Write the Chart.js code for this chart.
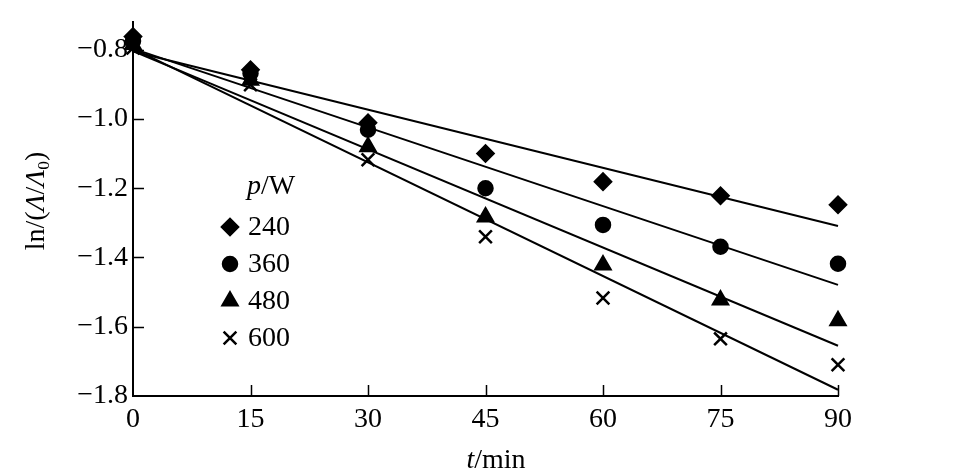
<!DOCTYPE html>
<html>
<head>
<meta charset="utf-8">
<script src="https://cdn.jsdelivr.net/npm/chart.js@4.4.1/dist/chart.umd.min.js"></script>
<style>
  html, body { margin: 0; padding: 0; background: #fff; }
  #wrap { width: 958px; height: 475px; }
</style>
</head>
<body>
<div id="wrap"><canvas id="chart" width="958" height="475"></canvas></div>
<script>
// measured points, ln(A/A0) against time, one array per power
const times = [0, 15, 30, 45, 60, 75, 90];
const powers = ['240', '360', '480', '600'];
const p240 = [-0.762, -0.858, -1.011, -1.100, -1.181, -1.222, -1.248];
const p360 = [-0.775, -0.868, -1.031, -1.200, -1.306, -1.369, -1.418];
const p480 = [-0.785, -0.888, -1.080, -1.283, -1.422, -1.523, -1.583];
const p600 = [-0.795, -0.901, -1.118, -1.340, -1.517, -1.635, -1.710];

// fitted straight lines, value at t=0 and t=90
const fitStart = [-0.805, -0.797, -0.804, -0.797];
const fitEnd = [-1.309, -1.479, -1.655, -1.782];

const xTicks = [0, 15, 30, 45, 60, 75, 90];
const yTicks = [-1.8, -1.6, -1.4, -1.2, -1.0, -0.8];

const series = [p240, p360, p480, p600];
const pointStyles = ['rectRot', 'circle', 'triangle', 'crossRot'];
const pointSizes = [8, 7, 8.5, 9];

const FONT = "'Liberation Serif', 'DejaVu Serif', serif";
const FS = 28;

function fmtY(v) {
  const s = Math.abs(v).toFixed(1);
  return v < 0 ? '\u2212' + s : s;
}

// draw a row of text pieces, some italic or subscript, centred on (cx, cy)
function drawRich(ctx, parts, cx, cy) {
  const fontOf = p => (p.italic ? 'italic ' : '') + (p.sub ? FS * 0.62 : FS) + 'px ' + FONT;
  let total = 0;
  parts.forEach(p => { ctx.font = fontOf(p); total += ctx.measureText(p.t).width; });
  let x = cx - total / 2;
  ctx.textAlign = 'left';
  ctx.textBaseline = 'middle';
  parts.forEach(p => {
    ctx.font = fontOf(p);
    ctx.fillText(p.t, x, p.sub ? cy + FS * 0.28 : cy);
    x += ctx.measureText(p.t).width;
  });
}

const decor = {
  id: 'decor',
  beforeDatasetsDraw(chart) {
    const { ctx, chartArea, scales } = chart;
    ctx.save();
    ctx.strokeStyle = '#000';
    ctx.lineWidth = 1.5;
    ctx.beginPath();
    xTicks.forEach(v => {
      if (v === xTicks[0]) return;
      const px = Math.round(scales.x.getPixelForValue(v)) + 0.5;
      ctx.moveTo(px, chartArea.bottom);
      ctx.lineTo(px, chartArea.bottom - 11);
    });
    yTicks.forEach(v => {
      if (v === yTicks[0]) return;
      const py = Math.round(scales.y.getPixelForValue(v)) + 0.5;
      ctx.moveTo(chartArea.left, py);
      ctx.lineTo(chartArea.left + 11, py);
    });
    ctx.stroke();
    ctx.restore();
  },
  afterDraw(chart) {
    const { ctx } = chart;
    ctx.save();
    ctx.fillStyle = '#000';
    ctx.strokeStyle = '#000';

    // axis titles
    drawRich(ctx, [{ t: 't', italic: true }, { t: '/min' }], 496, 461);
    ctx.save();
    ctx.translate(37, 201);
    ctx.rotate(-Math.PI / 2);
    drawRich(ctx, [
      { t: 'ln/(' }, { t: '\u039B', italic: true }, { t: '/' },
      { t: '\u039B', italic: true }, { t: '0', sub: true }, { t: ')' }
    ], 0, 0);
    ctx.restore();

    // legend inside the plot
    ctx.font = 'italic ' + FS + 'px ' + FONT;
    ctx.textAlign = 'left';
    ctx.textBaseline = 'middle';
    ctx.fillText('p', 247, 187);
    const pw = ctx.measureText('p').width;
    ctx.font = FS + 'px ' + FONT;
    ctx.fillText('/W', 247 + pw, 187);
    powers.forEach((label, i) => {
      const ly = 227 + i * 37;
      ctx.lineWidth = 2.5;
      Chart.helpers.drawPoint(ctx, {
        pointStyle: pointStyles[i], radius: pointSizes[i], rotation: 0, borderWidth: 2.5
      }, 230, ly);
      ctx.font = FS + 'px ' + FONT;
      ctx.fillText(label, 248, ly + 1);
    });
    ctx.restore();
  }
};

const datasets = [];
series.forEach((vals, i) => {
  datasets.push({
    type: 'scatter',
    label: powers[i],
    data: times.map((t, j) => ({ x: t, y: vals[j] })),
    pointStyle: pointStyles[i],
    pointRadius: pointSizes[i],
    pointHoverRadius: pointSizes[i],
    backgroundColor: '#000',
    borderColor: '#000',
    borderWidth: 2.5,
    clip: false,
    order: 0
  });
});
series.forEach((vals, i) => {
  datasets.push({
    type: 'line',
    label: 'fit ' + powers[i],
    data: [{ x: times[0], y: fitStart[i] }, { x: times[times.length - 1], y: fitEnd[i] }],
    borderColor: '#000',
    borderWidth: 2,
    pointRadius: 0,
    fill: false,
    clip: false,
    order: 1
  });
});

new Chart(document.getElementById('chart'), {
  data: { datasets },
  plugins: [decor],
  options: {
    responsive: false,
    animation: false,
    devicePixelRatio: 1,
    layout: { padding: { left: 0, right: 120, top: 22, bottom: 0 } },
    plugins: {
      legend: { display: false },
      tooltip: { enabled: false }
    },
    scales: {
      x: {
        type: 'linear',
        min: 0,
        max: 90,
        afterFit: s => { s.height = 79; },
        afterBuildTicks: s => { s.ticks = xTicks.map(v => ({ value: v })); },
        grid: { display: false, drawTicks: false },
        border: { display: true, color: '#000', width: 2 },
        ticks: {
          color: '#000',
          padding: 7,
          maxRotation: 0,
          font: { family: FONT, size: FS }
        }
      },
      y: {
        type: 'linear',
        min: -1.8,
        max: -0.72,
        afterFit: s => { s.width = 133; },
        afterBuildTicks: s => { s.ticks = yTicks.map(v => ({ value: v })); },
        grid: { display: false, drawTicks: false },
        border: { display: true, color: '#000', width: 2 },
        ticks: {
          color: '#000',
          padding: 5,
          font: { family: FONT, size: FS },
          callback: v => fmtY(v)
        }
      }
    }
  }
});
</script>
</body>
</html>
